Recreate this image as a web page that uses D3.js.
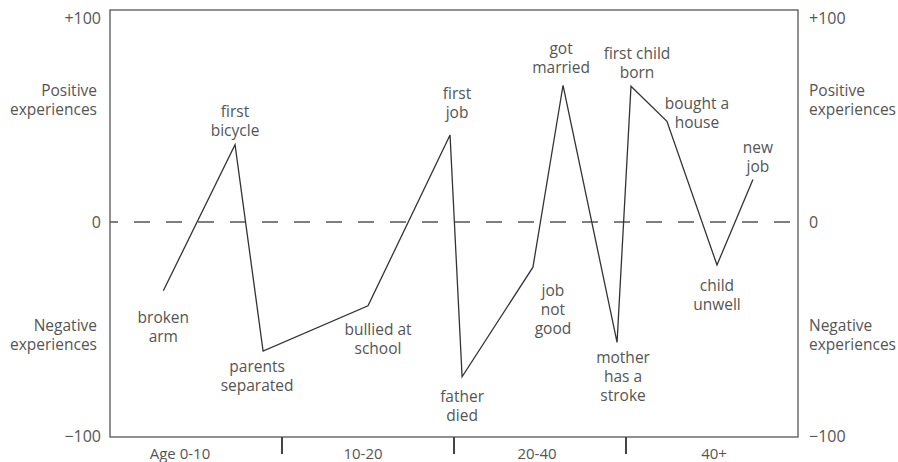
<!DOCTYPE html>
<html>
<head>
<meta charset="utf-8">
<script src="https://cdn.jsdelivr.net/npm/d3@7"></script>
<style>
  html, body { margin: 0; padding: 0; background: #fff; }
  svg { display: block; }
  text { font-family: "Open Sans", Lato, sans-serif; fill: #555; }
</style>
</head>
<body>
<svg id="chart" width="898" height="462"></svg>
<script>
// ---- data ----
const ageBands = ["Age 0-10", "10-20", "20-40", "40+"];
const eventNames = ["broken arm", "first bicycle", "parents separated", "bullied at school",
  "first job", "father died", "job not good", "got married", "mother has a stroke",
  "first child born", "bought a house", "child unwell", "new job"];
// position along life (in age-band units, 0..4)
const eventTimes = [0.31, 0.727, 0.89, 1.5, 1.977, 2.047, 2.459, 2.634, 2.948, 3.029, 3.238, 3.529, 3.738];
// experience score (-100 .. +100)
const eventScores = [-32, 36.5, -60, -39, 41, -72, -21, 64.5, -56, 64, 47.5, -20, 20];
// label lines
const eventLabels = [["broken", "arm"], ["first", "bicycle"], ["parents", "separated"], ["bullied at", "school"],
  ["first", "job"], ["father", "died"], ["job", "not", "good"], ["got", "married"], ["mother", "has a", "stroke"],
  ["first child", "born"], ["bought a", "house"], ["child", "unwell"], ["new", "job"]];
const yTickValues = [100, 0, -100];
const yTickLabels = ["+100", "0", "\u2212100"];
const sideLabels = [["Positive", "experiences", 62], ["Negative", "experiences", -48]];

// ---- layout ----
const mLeft = 110, mRight = 798, mTop = 10, mBottom = 437;
const svg = d3.select("#chart");

const x = d3.scaleLinear().domain([0, ageBands.length]).range([mLeft, mRight]);
const band = d3.scaleBand().domain(ageBands).range([mLeft, mRight]).padding(0);
const y = d3.scaleLinear().domain([-100, 0, 100]).range([mBottom, 222, mTop]);

// label placement: position relative to point (dx, dy of first line center)
const labelOffsets = [
  [0, 27], [0, -33], [-6, 16], [10, 24], [7, -42], [0, 20], [20, 23], [-2, -37],
  [6, 15], [6, -33], [30, -18], [0, 21], [5, -32]
];
const bandLabelShift = [-16, -5, -3, 2];
const lineGap = 19;

// frame
svg.append("rect")
  .attr("x", mLeft).attr("y", mTop)
  .attr("width", mRight - mLeft).attr("height", mBottom - mTop)
  .attr("fill", "none").attr("stroke", "#555").attr("stroke-width", 1.3);

// zero dashed line
svg.append("line")
  .attr("x1", mLeft).attr("x2", mRight)
  .attr("y1", y(0)).attr("y2", y(0))
  .attr("stroke", "#555").attr("stroke-width", 1.3)
  .attr("stroke-dasharray", "16,16").attr("stroke-dashoffset", 8);

// bottom axis: band boundaries as ticks
const innerBounds = ageBands.slice(1).map(b => band(b));
svg.selectAll("line.btick").data(innerBounds).enter().append("line")
  .attr("class", "btick")
  .attr("x1", d => d).attr("x2", d => d)
  .attr("y1", mBottom).attr("y2", mBottom + 17)
  .attr("stroke", "#444").attr("stroke-width", 2);
svg.selectAll("text.band").data(ageBands).enter().append("text")
  .attr("class", "band")
  .attr("x", (d, i) => band(d) + band.bandwidth() / 2 + bandLabelShift[i])
  .attr("y", mBottom + 17)
  .attr("dy", "0.35em")
  .attr("text-anchor", "middle")
  .attr("font-size", 15)
  .text(d => d);

// y tick labels, both sides
const ticks = yTickValues.map((v, i) => ({ v, t: yTickLabels[i] }));
const tickY = v => v === 100 ? 18 : v === -100 ? 436 : y(v);
svg.selectAll("text.ylt").data(ticks).enter().append("text")
  .attr("x", 101).attr("y", d => tickY(d.v))
  .attr("dy", "0.35em").attr("text-anchor", "end").attr("font-size", 16)
  .text(d => d.t);
svg.selectAll("text.yrt").data(ticks).enter().append("text")
  .attr("x", 809).attr("y", d => tickY(d.v))
  .attr("dy", "0.35em").attr("text-anchor", "start").attr("font-size", 16)
  .text(d => d.t);

// side labels (one text element per line)
sideLabels.forEach(s => {
  [[97, "end"], [809, "start"]].forEach(([xx, anchor]) => {
    [s[0], s[1]].forEach((line, k) => {
      svg.append("text").attr("text-anchor", anchor).attr("font-size", 15.5)
        .attr("x", xx).attr("y", y(s[2]) + k * lineGap).attr("dy", "0.35em").text(line);
    });
  });
});

// experience line
const pts = eventTimes.map((t, i) => [t, eventScores[i]]);
svg.append("path")
  .datum(pts)
  .attr("fill", "none").attr("stroke", "#333").attr("stroke-width", 1.3)
  .attr("stroke-linejoin", "miter")
  .attr("d", d3.line().x(d => x(d[0])).y(d => y(d[1])));

// event labels (one text element per line)
eventLabels.forEach((lines, i) => {
  const px = x(eventTimes[i]), py = y(eventScores[i]);
  const [dx, dy] = labelOffsets[i];
  lines.forEach((line, k) => {
    svg.append("text").attr("text-anchor", "middle").attr("font-size", 15.5)
      .attr("x", px + dx).attr("y", py + dy + k * lineGap).attr("dy", "0.35em").text(line);
  });
});
</script>
</body>
</html>
